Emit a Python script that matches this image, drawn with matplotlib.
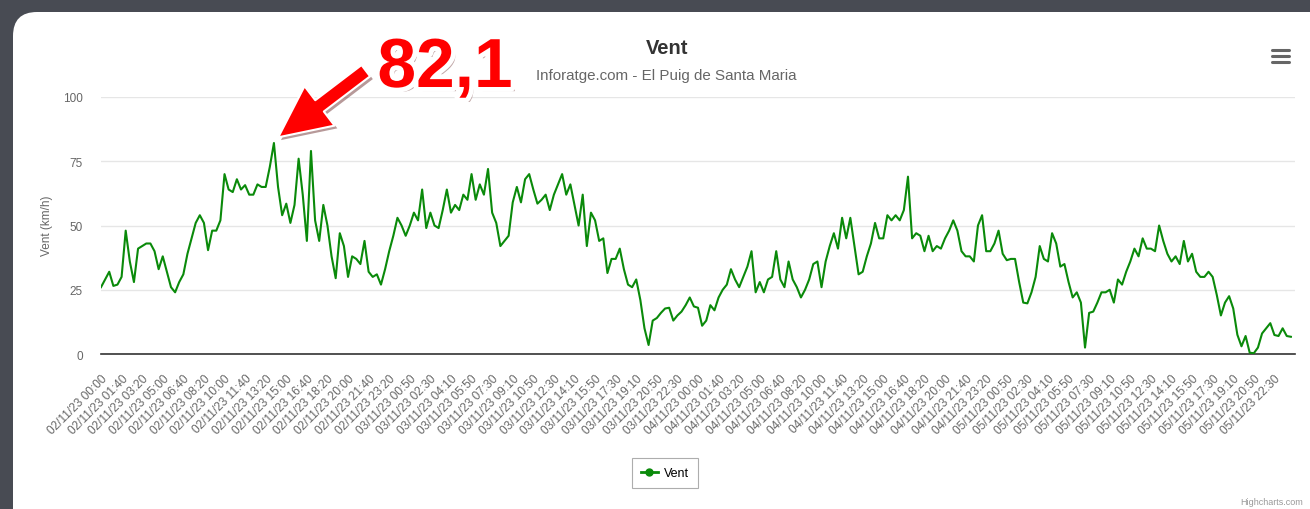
import numpy as np
import matplotlib.pyplot as plt
import matplotlib.patheffects as pe
from matplotlib.patches import FancyBboxPatch, FancyArrowPatch
from matplotlib.lines import Line2D
from matplotlib.transforms import IdentityTransform

plt.rcParams['font.family'] = ['Liberation Sans', 'DejaVu Sans']

# Vent (km/h), un valor cada 20 minuts (2 punts de categoria)
vent_dia2 = [26, 29, 32, 26.5, 27, 30, 48, 36, 28, 41, 42, 43, 43, 40, 33, 38, 32, 26, 24, 28,
             31, 39, 45, 51, 54, 51, 40.4, 48, 48, 52, 70, 64, 63, 68, 64, 65.7, 62, 62, 66, 65,
             65, 72.8, 82.1, 65, 54, 58.5, 51, 58, 76, 62, 44, 79, 52, 44, 58, 50, 38, 29.5, 47, 42,
             30, 38, 37, 35, 44, 32, 30, 31, 27, 33, 40, 46, 53]
vent_dia3 = [50, 46, 50, 55, 52, 64, 49, 55, 50, 49, 56, 64, 55, 58, 56, 62, 60, 70, 60, 66,
             62, 72, 55, 51, 42, 44, 46, 59, 65, 59, 68, 70, 64, 58.5, 60, 62, 56, 62, 66, 70,
             62, 66, 58, 50, 62, 42, 55, 52, 44, 45, 31.5, 37, 37, 41, 33, 27, 26, 29, 21, 10,
             3.5, 13, 14, 16, 17.7, 18, 13, 15, 16.5, 19, 22, 18.5]
vent_dia4 = [18, 11, 13, 19, 17, 22, 25, 27, 33, 29, 26, 30, 34, 40, 24, 28, 24, 29, 30, 40,
             29, 26, 36, 29, 26, 22, 25, 29, 35, 36, 26, 36, 42, 47, 41, 53, 45, 53, 42, 31,
             32, 38, 43, 51, 45, 45, 54, 52, 54, 52, 56, 69, 45, 47, 46, 40, 46, 40, 42, 41,
             45, 48, 52, 48, 40, 38, 38, 36, 50, 54, 40, 40, 43]
vent_dia5 = [48, 39, 36.5, 37, 37, 28, 20, 19.7, 24, 30, 42, 37, 36, 47, 43, 34, 35, 28, 22, 24,
             20, 2.5, 16, 16.5, 20, 24, 24, 25, 20, 29, 27, 32, 36, 41, 38, 45, 41, 41, 40, 50,
             44, 39, 36, 38, 35, 44, 36, 39, 32, 30, 30, 32, 30, 23, 15, 20, 22.5, 17.7, 7.5, 3,
             7, 0.5, 0.3, 2.5, 8, 10, 12, 7.4, 7, 10, 7, 6.7]

hores_a = ['00:00', '01:40', '03:20', '05:00', '06:40', '08:20', '10:00', '11:40',
           '13:20', '15:00', '16:40', '18:20', '20:00', '21:40', '23:20']
hores_b = ['00:50', '02:30', '04:10', '05:50', '07:30', '09:10', '10:50', '12:30',
           '14:10', '15:50', '17:30', '19:10', '20:50', '22:30']
etiquetes = (['02/11/23 ' + h for h in hores_a] + ['03/11/23 ' + h for h in hores_b] +
             ['04/11/23 ' + h for h in hores_a] + ['05/11/23 ' + h for h in hores_b])

vent = vent_dia2 + vent_dia3 + vent_dia4 + vent_dia5
x = np.arange(len(vent)) * 2
verd = '#0a8a0a'

W, H = 1310, 510
fig = plt.figure(figsize=(W / 100, H / 100), dpi=100)
fig.patch.set_facecolor('#484b53')

# targeta blanca
card = FancyBboxPatch((13, -30), W + 20, H - 13 + 30,
                      boxstyle='round,pad=0,rounding_size=24',
                      transform=IdentityTransform(), facecolor='white', edgecolor='none',
                      zorder=-5)
fig.patches.append(card)

ax = fig.add_axes([101 / W, 155 / H, 1194 / W, 257 / H])
ax.set_facecolor('none')
ax.plot(x, vent, color=verd, lw=1.5, solid_joinstyle='round', zorder=3)
ax.set_xlim(0, 580)
ax.set_ylim(0, 100)
ax.set_yticks([0, 25, 50, 75, 100])
ax.yaxis.grid(True, color='#e6e6e6', lw=1)
ax.set_axisbelow(True)
for s in ['top', 'right', 'left']:
    ax.spines[s].set_visible(False)
ax.spines['bottom'].set_color('#333333')
ax.spines['bottom'].set_linewidth(1.2)
ax.tick_params(axis='y', length=0, labelsize=8.5, labelcolor='#666666', pad=13)
ax.set_xticks(np.arange(len(etiquetes)) * 10)
ax.set_xticklabels(etiquetes, rotation=45, ha='right', rotation_mode='anchor',
                   fontsize=8.6, color='#666666')
ax.tick_params(axis='x', length=0, pad=13)

fig.text(47 / W, 1 - 226 / H, 'Vent (km/h)', rotation=90, ha='center', va='center',
         fontsize=8.5, color='#666666')
fig.text(667 / W, 1 - 48 / H, 'Vent', ha='center', va='center', fontsize=14.5,
         fontweight='bold', color='#333333')
fig.text(666 / W, 1 - 76 / H, 'Inforatge.com - El Puig de Santa Maria', ha='center',
         va='center', fontsize=10.9, color='#666666')

# menu
for yy in [51, 57, 63]:
    fig.add_artist(Line2D([1272, 1289], [H - yy, H - yy], transform=IdentityTransform(),
                          color='#666666', lw=2.2, solid_capstyle='round'))

# llegenda
h = Line2D([], [], color=verd, lw=2, marker='o', markersize=5)
leg = fig.legend([h], ['Vent'], loc='center', bbox_to_anchor=(665 / W, 1 - 474 / H),
                 fontsize=9, frameon=True, fancybox=False, edgecolor='#999999',
                 handlelength=1.4, handletextpad=0.5, borderpad=0.7)
leg.get_frame().set_linewidth(0.8)

fig.text(1303 / W, 1 - 503 / H, 'Highcharts.com', ha='right', va='center', fontsize=6.5,
         color='#999999')

# anotacio del maxim
arrow = FancyArrowPatch((368, H - 70), (276, H - 140), transform=IdentityTransform(),
                        arrowstyle='simple,head_length=2.2,head_width=2.1,tail_width=0.6',
                        mutation_scale=17, facecolor='#ff0000', edgecolor='white', lw=1.5,
                        zorder=6,
                        path_effects=[pe.SimplePatchShadow(offset=(2, -2), alpha=0.4),
                                      pe.Normal()])
fig.patches.append(arrow)
fig.text(445 / W, 1 - 70 / H, '82,1', ha='center', va='center', fontsize=50,
         fontweight='bold', color='#ff0000', zorder=7,
         path_effects=[pe.SimplePatchShadow(offset=(3, -3), alpha=0.35),
                       pe.withStroke(linewidth=7, foreground='white')])

fig.savefig('out.png', dpi=100, facecolor=fig.get_facecolor())
